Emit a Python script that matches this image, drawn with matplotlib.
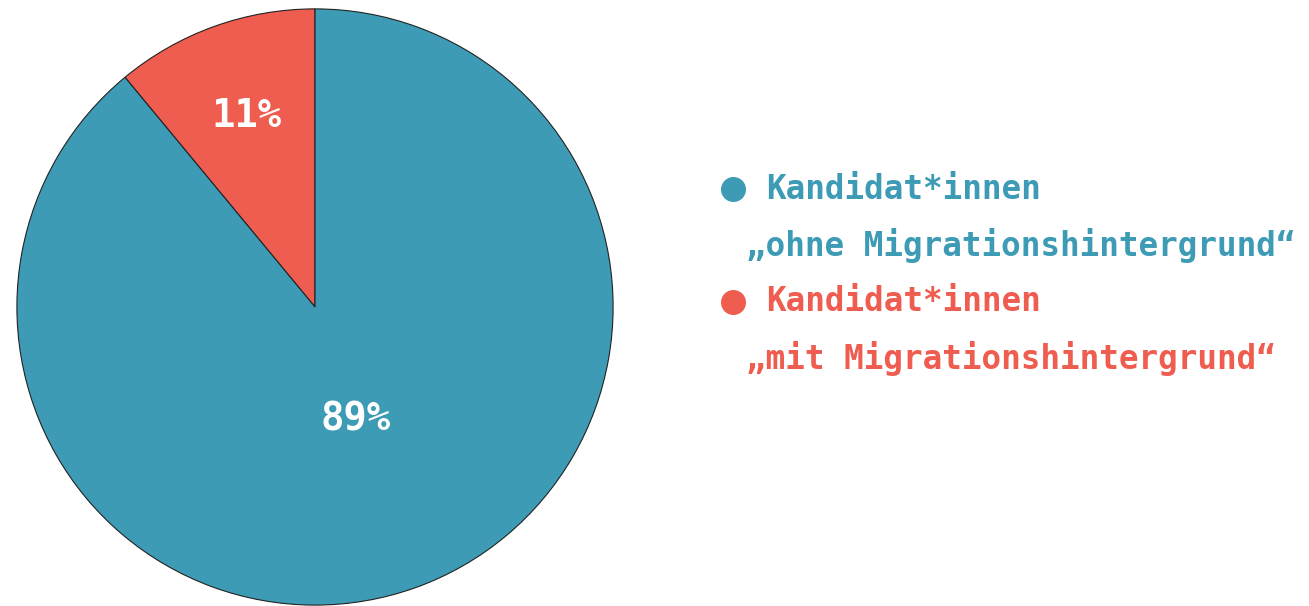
import matplotlib.pyplot as plt
from matplotlib.lines import Line2D
import numpy as np

# shares of candidates, in percent
categories = ['ohne Migrationshintergrund', 'mit Migrationshintergrund']
shares = [89, 11]
pct_labels = ['89%', '11%']
colors = ['#3d9bb5', '#ee5d4f']
legend_lines = [['Kandidat*innen', '„ohne Migrationshintergrund“'],
                ['Kandidat*innen', '„mit Migrationshintergrund“']]

# label distance from centre (fraction of radius), per slice
label_dist = [0.40, 0.68]

W, H = 1309, 606
fig = plt.figure(figsize=(W / 100, H / 100), dpi=100)

# pie axes: centre at (315, 307) px, radius 299 px
cx, cy, r = 315, 307, 299
ax = fig.add_axes([(cx - r) / W, (H - cy - r) / H, 2 * r / W, 2 * r / H])

# draw red slice first so it starts at 12 o'clock and goes counter-clockwise
wedges, _ = ax.pie(shares[::-1], colors=colors[::-1], startangle=90,
                   counterclock=True, radius=1,
                   wedgeprops=dict(edgecolor='#222222', linewidth=0.8))
wedges = wedges[::-1]
ax.set_xlim(-1.003, 1.003)
ax.set_ylim(-1.003, 1.003)
ax.set_aspect('equal')
ax.axis('off')

for w, lab, d in zip(wedges, pct_labels, label_dist):
    theta = np.deg2rad((w.theta1 + w.theta2) / 2)
    ax.text(d * np.cos(theta), d * np.sin(theta), lab, ha='center', va='center',
            color='white', fontsize=28, fontweight='bold', family='DejaVu Sans Mono')

# legend built by hand
fs = 23.5
rows_y = [189, 302]
for (l1, l2), col, y in zip(legend_lines, colors, rows_y):
    fig.add_artist(Line2D([733 / W], [1 - y / H], marker='o', markersize=17,
                          color=col, linestyle='none', transform=fig.transFigure))
    fig.text(766 / W, 1 - y / H, l1, color=col, fontsize=fs, fontweight='bold',
             family='DejaVu Sans Mono', ha='left', va='center')
    fig.text(746 / W, 1 - (y + 56) / H, l2, color=col, fontsize=fs, fontweight='bold',
             family='DejaVu Sans Mono', ha='left', va='center')

fig.savefig('out.png', dpi=100, facecolor='white')
